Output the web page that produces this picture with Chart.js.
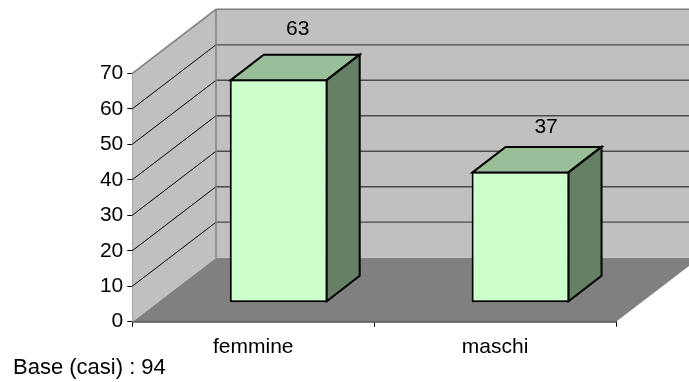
<!DOCTYPE html>
<html>
<head>
<meta charset="utf-8">
<style>
  html, body { margin: 0; padding: 0; background: #fff; }
  canvas { display: block; }
</style>
<script src="https://cdn.jsdelivr.net/npm/chart.js@4"></script>
</head>
<body>
<canvas id="chart" width="689" height="382"></canvas>
<script>
const categories = ['femmine', 'maschi'];
const values = [63, 37];
const yTicks = [0, 10, 20, 30, 40, 50, 60, 70];
const baseNote = 'Base (casi) : 94';

const FONT = '"Liberation Sans", Arial, sans-serif';
const FONT_SIZE = 21;

// Projection of the box: how far the back wall and the bar depth sit from the front plane
const ROOM = { dx: 83.7, dy: -64 };
const BAR_SHIFT = { dx: 25.5, dy: -19 };
const BAR_DEPTH = { dx: 33, dy: -25.5 };
const LABEL_RISE = [51, 45];
const LABEL_RUN = [19, 25.5];

function poly(ctx, pts, fill, stroke, lw) {
  ctx.beginPath();
  pts.forEach((p, i) => (i ? ctx.lineTo(p[0], p[1]) : ctx.moveTo(p[0], p[1])));
  ctx.closePath();
  if (fill) { ctx.fillStyle = fill; ctx.fill(); }
  if (stroke) { ctx.strokeStyle = stroke; ctx.lineWidth = lw; ctx.lineJoin = 'miter'; ctx.stroke(); }
}

const roomPlugin = {
  id: 'room',
  beforeDatasetsDraw(chart) {
    const { ctx, chartArea: a, scales: { y } } = chart;
    const { dx, dy } = ROOM;
    const y0 = y.getPixelForValue(0), yTop = y.getPixelForValue(yTicks[yTicks.length - 1]);
    ctx.save();
    // floor
    poly(ctx, [[a.left, y0], [a.left + dx, y0 + dy], [a.right + dx, y0 + dy], [a.right, y0]], '#808080');
    // back wall
    poly(ctx, [[a.left + dx, yTop + dy], [a.right + dx, yTop + dy], [a.right + dx, y0 + dy], [a.left + dx, y0 + dy]], '#C0C0C0');
    // side wall
    poly(ctx, [[a.left, y0], [a.left, yTop], [a.left + dx, yTop + dy], [a.left + dx, y0 + dy]], '#C0C0C0');
    // gridlines running along both walls
    yTicks.slice(1, -1).forEach(v => {
      const py = y.getPixelForValue(v);
      ctx.beginPath();
      ctx.moveTo(a.left, py);
      ctx.lineTo(a.left + dx, py + dy);
      ctx.strokeStyle = '#000';
      ctx.lineWidth = 1;
      ctx.stroke();
      ctx.beginPath();
      ctx.moveTo(a.left + dx, py + dy);
      ctx.lineTo(a.right + dx, py + dy);
      ctx.strokeStyle = '#4a4a4a';
      ctx.lineWidth = 1.3;
      ctx.stroke();
    });
    // wall outlines
    ctx.strokeStyle = '#808080';
    ctx.lineWidth = 1.5;
    ctx.beginPath();
    ctx.moveTo(a.left, yTop);
    ctx.lineTo(a.left + dx, yTop + dy);
    ctx.lineTo(a.right + dx, yTop + dy);
    ctx.moveTo(a.left + dx, yTop + dy);
    ctx.lineTo(a.left + dx, y0 + dy);
    ctx.stroke();
    ctx.restore();

    // the bars stand part way into the room
    ctx.save();
    ctx.translate(BAR_SHIFT.dx, BAR_SHIFT.dy);
  },
  afterDatasetsDraw(chart) {
    const { ctx } = chart;
    const { dx, dy } = BAR_DEPTH;
    chart.getDatasetMeta(0).data.forEach(bar => {
      const l = bar.x - bar.width / 2 + 1, r = bar.x + bar.width / 2 - 1;
      const t = bar.y + 1, b = bar.base - 1;
      poly(ctx, [[l, t], [l + dx, t + dy], [r + dx, t + dy], [r, t]], '#99BF99', '#000', 2);
      poly(ctx, [[r, t], [r + dx, t + dy], [r + dx, b + dy], [r, b]], '#668066', '#000', 2);
    });
    ctx.restore();

    // value labels and the base note
    ctx.save();
    ctx.fillStyle = '#000';
    ctx.font = `${FONT_SIZE}px ${FONT}`;
    ctx.textAlign = 'center';
    ctx.textBaseline = 'middle';
    chart.getDatasetMeta(0).data.forEach((bar, i) => {
      ctx.fillText(String(values[i]), bar.x + BAR_SHIFT.dx + LABEL_RUN[i], bar.y + BAR_SHIFT.dy - LABEL_RISE[i] + 1);
    });
    ctx.textAlign = 'left';
    ctx.font = `22px ${FONT}`;
    ctx.fillText(baseNote, 13, 368);
    ctx.restore();
  }
};

new Chart(document.getElementById('chart'), {
  type: 'bar',
  data: {
    labels: categories,
    datasets: [{
      data: values,
      backgroundColor: '#CCFFCC',
      borderColor: '#000',
      borderWidth: 2,
      borderSkipped: false,
      barPercentage: 0.405,
      categoryPercentage: 1
    }]
  },
  options: {
    responsive: false,
    animation: false,
    events: [],
    layout: { padding: { top: 73.3, right: 73, left: 0, bottom: 0 } },
    plugins: { legend: { display: false }, tooltip: { enabled: false }, title: { display: false } },
    scales: {
      x: {
        afterFit(s) { s.height = 382 - 321.7; },
        border: { color: '#000', width: 1.5 },
        grid: { drawOnChartArea: false, drawTicks: true, tickLength: 5, color: '#000', lineWidth: 1 },
        ticks: { color: '#000', font: { family: FONT, size: FONT_SIZE }, padding: 8, maxRotation: 0 }
      },
      y: {
        min: 0,
        max: 70,
        afterFit(s) { s.width = 132.3; },
        afterBuildTicks(s) { s.ticks = yTicks.map(v => ({ value: v })); },
        border: { color: '#666', width: 1.5 },
        grid: { drawOnChartArea: false, drawTicks: true, tickLength: 5, color: '#000', lineWidth: 1 },
        ticks: { color: '#000', font: { family: FONT, size: FONT_SIZE }, padding: 4 }
      }
    }
  },
  plugins: [roomPlugin]
});
</script>
</body>
</html>
